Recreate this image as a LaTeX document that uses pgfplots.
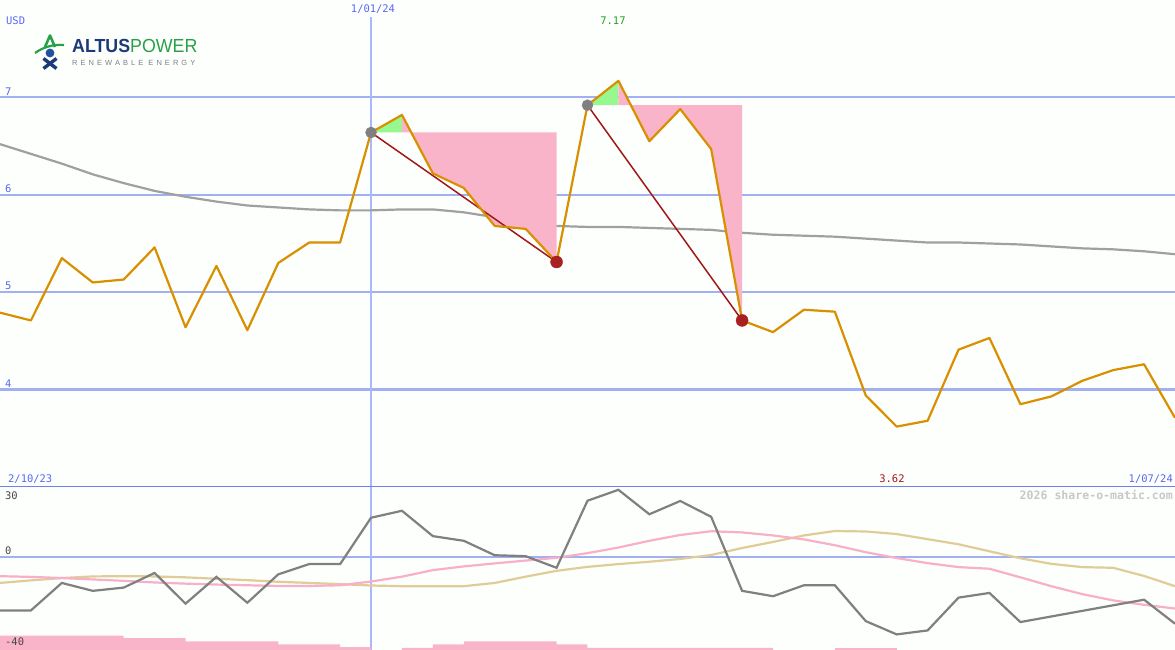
\documentclass[border=0pt]{standalone}
\usepackage{pgfplots}
\usepackage{pgfplotstable}
\pgfplotsset{compat=1.18}
\usepackage{fontspec}
\setmainfont{Liberation Sans}
\newfontfamily\monof{DejaVu Sans Mono}
\newfontfamily\logof{Liberation Sans}
\newfontfamily\logosp[LetterSpace=41]{Liberation Sans}

\definecolor{bgc}{RGB}{253,255,253}
\definecolor{gridc}{RGB}{160,176,240}
\definecolor{sepc}{RGB}{112,128,232}
\definecolor{vlinec}{RGB}{168,184,248}
\definecolor{labc}{RGB}{88,104,240}
\definecolor{pricec}{RGB}{216,144,0}
\definecolor{mac}{RGB}{160,160,160}
\definecolor{pinkf}{RGB}{250,180,202}
\definecolor{greenf}{RGB}{152,248,144}
\definecolor{tradec}{RGB}{160,24,24}
\definecolor{exitc}{RGB}{168,32,32}
\definecolor{entryc}{RGB}{128,128,128}
\definecolor{oscc}{RGB}{128,128,128}
\definecolor{pinkl}{RGB}{248,176,200}
\definecolor{tanl}{RGB}{224,204,152}
\definecolor{maxc}{RGB}{32,160,32}
\definecolor{minc}{RGB}{160,24,24}
\definecolor{lowlab}{RGB}{70,70,70}
\definecolor{wmc}{RGB}{200,200,200}
\definecolor{navyc}{RGB}{28,58,120}
\definecolor{bluec}{RGB}{32,80,160}
\definecolor{lgreen}{RGB}{40,160,72}
\definecolor{sloganc}{RGB}{120,128,136}

\pgfplotstableread{
i price ma osc pk tan
0 4.79 6.52 -23.0 -8.3 -11.2
1 4.71 6.42 -23.0 -8.6 -10.1
2 5.35 6.32 -11.2 -9.1 -9.1
3 5.10 6.21 -14.6 -9.7 -8.4
4 5.13 6.12 -13.2 -10.3 -8.3
5 5.46 6.04 -6.9 -11.0 -8.4
6 4.64 5.98 -20.1 -11.5 -8.8
7 5.27 5.93 -8.6 -11.9 -9.4
8 4.61 5.89 -19.7 -12.2 -10.0
9 5.30 5.87 -7.5 -12.5 -10.7
10 5.51 5.85 -3.1 -12.5 -11.2
11 5.51 5.84 -3.1 -12.2 -11.7
12 6.64 5.84 16.8 -10.6 -12.3
13 6.82 5.85 19.8 -8.5 -12.6
14 6.22 5.85 8.9 -5.7 -12.6
15 6.07 5.82 6.9 -4.1 -12.6
16 5.68 5.77 0.7 -2.8 -11.2
17 5.65 5.73 0.3 -1.6 -8.5
18 5.31 5.68 -4.7 -0.4 -6.0
19 6.92 5.67 24.1 1.6 -4.3
20 7.17 5.67 28.8 4.0 -3.1
21 6.55 5.66 18.3 6.9 -2.1
22 6.88 5.65 24.0 9.4 -0.9
23 6.47 5.64 17.2 11.0 0.8
24 4.71 5.61 -14.6 10.5 3.8
25 4.59 5.59 -16.9 9.2 6.4
26 4.82 5.58 -12.2 7.5 9.2
27 4.80 5.57 -12.2 5.0 11.1
28 3.94 5.55 -27.6 2.0 10.9
29 3.62 5.53 -33.3 -0.5 9.8
30 3.68 5.51 -31.6 -2.7 7.6
31 4.41 5.51 -17.5 -4.4 5.4
32 4.53 5.50 -15.5 -5.1 2.4
33 3.85 5.49 -28.0 -8.8 -0.6
34 3.93 5.47 -25.6 -12.6 -3.0
35 4.09 5.45 -23.2 -16.0 -4.4
36 4.20 5.44 -20.8 -18.7 -4.7
37 4.26 5.42 -18.4 -20.6 -8.2
38 3.71 5.39 -28.7 -22.2 -12.6
}\data

\pgfplotsset{panel/.style={
  scale only axis, width=1175bp, xmin=0, xmax=38,
  axis line style={draw=none}, tick style={draw=none},
  major tick length=0pt, xtick=\empty,
  ymajorgrids, major grid style={gridc, line width=2.2bp},
  /pgf/number format/assume math mode=true,
  yticklabel style={anchor=south west, inner sep=0pt, xshift=5bp, yshift=2bp,
     text=labc, font=\monof\fontsize{10.5}{10.5}\selectfont},
}}

\begin{document}
\begin{tikzpicture}
\fill[bgc] (0,0) rectangle (1175bp,650bp);
\path[use as bounding box] (0,0) rectangle (1175bp,650bp);

% ---------- upper panel ----------
\begin{axis}[panel, at={(0,163bp)}, anchor=south west, height=487bp,
  ymin=3, ymax=8, ytick={4,5,6,7}]
  \addplot[vlinec, line width=1.3bp] coordinates {(12,3) (12,7.83)};
  \addplot[mac, line width=2.2bp] table[x=i, y=ma] {\data};
  % trade 1 areas
  \addplot[fill=greenf, draw=none] coordinates {(12,6.64) (13,6.82) (13,6.64)};
  \addplot[fill=pinkf, draw=none] coordinates {(13,6.64) (13,6.82) (14,6.22) (15,6.07) (16,5.68) (17,5.65) (18,5.31) (18,6.64)};
  % trade 2 areas
  \addplot[fill=greenf, draw=none] coordinates {(19,6.92) (20,7.17) (20,6.92)};
  \addplot[fill=pinkf, draw=none] coordinates {(20,6.92) (20,7.17) (21,6.55) (22,6.88) (23,6.47) (24,4.71) (24,6.92)};
  % trade lines
  \addplot[tradec, line width=1.5bp] coordinates {(12,6.64) (18,5.31)};
  \addplot[tradec, line width=1.5bp] coordinates {(19,6.92) (24,4.71)};
  \addplot[only marks, mark=*, mark size=5.5bp, entryc, mark options={draw=entryc, fill=entryc}] coordinates {(12,6.64) (19,6.92)};
  \addplot[only marks, mark=*, mark size=6bp, exitc, mark options={draw=exitc, fill=exitc}] coordinates {(18,5.31) (24,4.71)};
  \addplot[pricec, line width=2.2bp, line join=round] table[x=i, y=price] {\data};
  \draw[sepc, line width=2.2bp] (rel axis cs:0,0) -- (rel axis cs:1,0);
\end{axis}

% ---------- lower panel ----------
\begin{axis}[panel, at={(0,0)}, anchor=south west, height=163bp,
  ymin=-40, ymax=30, ytick={0}, yticklabels={}]
  \addplot[vlinec, line width=1.3bp] coordinates {(12,-40) (12,30)};
  \addplot[fill=pinkf, draw=none] coordinates {(0,-40) (0,-33.8) (4,-33.8) (4,-34.9) (6,-34.9) (6,-36.3) (9,-36.3) (9,-37.6) (11,-37.6) (11,-38.8) (12,-38.8) (12,-40)};
  \addplot[fill=pinkf, draw=none] coordinates {(13,-40) (13,-39.1) (14,-39.1) (14,-37.6) (15,-37.6) (15,-36.3) (18,-36.3) (18,-37.6) (19,-37.6) (19,-39.1) (25,-39.1) (25,-40)};
  \addplot[fill=pinkf, draw=none] coordinates {(27,-40) (27,-39.1) (29,-39.1) (29,-40)};
  \addplot[tanl, line width=2.2bp] table[x=i, y=tan] {\data};
  \addplot[pinkl, line width=2.2bp] table[x=i, y=pk] {\data};
  \addplot[oscc, line width=2.2bp] table[x=i, y=osc] {\data};
\end{axis}

% ---------- text and logo (pixel coordinates, y downwards) ----------
\begin{scope}[shift={(0bp,650bp)}, x=1bp, y=-1bp]
  \tikzset{lab/.style={inner sep=0pt, font=\monof\fontsize{10.5}{10.5}\selectfont}}
  \node[lab, text=labc, anchor=base west] at (6,25) {USD};
  \node[lab, text=labc, anchor=base] at (373,13) {1/01/24};
  \node[lab, text=maxc, anchor=base] at (613,25) {7.17};
  \node[lab, text=labc, anchor=base west] at (8,483) {2/10/23};
  \node[lab, text=minc, anchor=base] at (892,483) {3.62};
  \node[lab, text=labc, anchor=base east] at (1173,483) {1/07/24};
  \node[lab, text=lowlab, anchor=base west] at (5,499.5) {30};
  \node[lab, text=lowlab, anchor=base west] at (5,554.5) {0};
  \node[lab, text=lowlab, anchor=base west] at (5,646) {-40};
  \node[inner sep=0pt, anchor=base east, text=wmc, font=\monof\bfseries\fontsize{11.6}{12}\selectfont] at (1173,500) {2026 share-o-matic.com};
  % logo
  \draw[lgreen, line width=2.6bp, line join=round] (45,47) -- (50,35.5) -- (55,47);
  \draw[lgreen, line width=2.2bp] (35,53) .. controls (42,48) and (52,44) .. (64,45);
  \fill[bluec] (50,53) circle (4.4bp);
  \draw[navyc, line width=3.4bp] (43.5,58.5) -- (56.5,68.5);
  \draw[navyc, line width=3.4bp] (56.5,58.5) -- (43.5,68.5);
  \node[inner sep=0pt, anchor=base west] at (72,53)
     {\scalebox{0.94}[1]{\logof\fontsize{19}{19}\selectfont{\bfseries\color{navyc}ALTUS}{\color{lgreen}POWER}}};
  \node[inner sep=0pt, anchor=base west, text=sloganc] at (72,65.5)
     {\logosp\fontsize{7.5}{8}\selectfont RENEWABLE ENERGY};
\end{scope}
\end{tikzpicture}
\end{document}
